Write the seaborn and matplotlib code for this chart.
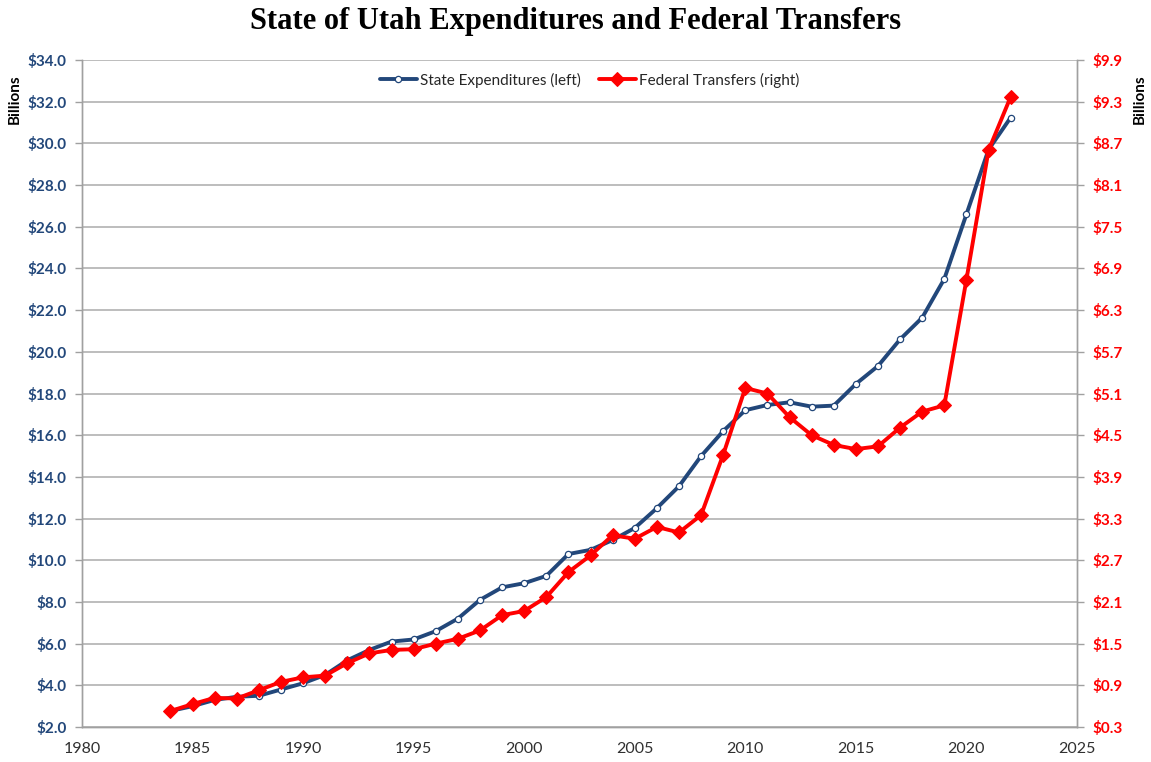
import matplotlib
matplotlib.use("Agg")
import matplotlib.pyplot as plt
import seaborn as sns
import pandas as pd
import numpy as np

years = list(range(1984, 2023))
state_expenditures = [2.77, 3.0, 3.3, 3.45, 3.5, 3.8, 4.1, 4.5, 5.2, 5.7, 6.1, 6.2, 6.6, 7.2,
                      8.1, 8.7, 8.9, 9.25, 10.3, 10.5, 10.97, 11.55, 12.5, 13.55, 15.0, 16.2,
                      17.2, 17.45, 17.58, 17.37, 17.42, 18.46, 19.32, 20.6, 21.64, 23.5, 26.6,
                      29.7, 31.24]
federal_transfers = [0.53, 0.63, 0.72, 0.71, 0.83, 0.95, 1.015, 1.04, 1.22, 1.36, 1.41, 1.42,
                     1.5, 1.57, 1.69, 1.91, 1.97, 2.17, 2.53, 2.77, 3.06, 3.01, 3.18, 3.10,
                     3.35, 4.22, 5.18, 5.10, 4.76, 4.50, 4.36, 4.30, 4.34, 4.61, 4.84, 4.93,
                     6.74, 8.60, 9.37]
left_ticks = [2.0 + 2.0 * i for i in range(17)]
right_ticks = [0.3 + 0.6 * i for i in range(17)]
x_ticks = [1980, 1985, 1990, 1995, 2000, 2005, 2010, 2015, 2020, 2025]

title = "State of Utah Expenditures and Federal Transfers"
label_state = "State Expenditures (left)"
label_fed = "Federal Transfers (right)"

df = pd.DataFrame({"year": years, "state": state_expenditures, "fed": federal_transfers})

sns.set_style("white")
plt.rcParams['font.family'] = ['Lato', 'DejaVu Sans']

BLUE = "#22477A"
RED = "#FF0000"
GRID = "#B8B8B8"

fig = plt.figure(figsize=(11.51, 7.62), dpi=100)
ax = fig.add_axes([0.0712, 0.0459, 0.8645, 0.8753])
ax2 = ax.twinx()

sns.lineplot(data=df, x="year", y="state", ax=ax, color=BLUE, linewidth=2.8,
             marker="o", markersize=4.5, markerfacecolor="white", markeredgecolor=BLUE,
             markeredgewidth=0.9, label=label_state, legend=False, zorder=3)
sns.lineplot(data=df, x="year", y="fed", ax=ax2, color=RED, linewidth=2.8,
             marker="D", markersize=7.5, markerfacecolor=RED, markeredgecolor=RED,
             label=label_fed, legend=False, zorder=4)

ax.set_xlim(1980, 2025)
ax.set_ylim(2.0, 34.0)
ax2.set_ylim(0.3, 9.9)
ax.set_xticks(x_ticks)
ax.set_yticks(left_ticks)
ax2.set_yticks(right_ticks)
ax.set_yticklabels([f"${v:.1f}" for v in left_ticks])
ax2.set_yticklabels([f"${v:.1f}" for v in right_ticks])
ax.set_xticklabels([str(v) for v in x_ticks])

ax.grid(axis="y", color=GRID, linewidth=1.3)
ax.set_axisbelow(True)

for a in (ax, ax2):
    for s in a.spines.values():
        s.set_color("#A0A0A0")
        s.set_linewidth(1.0)
    a.spines["top"].set_visible(False)

ax.tick_params(axis="y", colors="#A0A0A0", labelcolor=BLUE, labelsize=11, length=5, width=1, direction="out", pad=6)
ax2.tick_params(axis="y", colors="#A0A0A0", labelcolor=RED, labelsize=11, length=5, width=1, direction="out", pad=6)
ax.tick_params(axis="x", colors="#A0A0A0", labelcolor="#303030", labelsize=11.5, length=5, width=1, direction="out", pad=6)
for lbl in ax.get_yticklabels():
    lbl.set_fontweight("bold")
for lbl in ax2.get_yticklabels():
    lbl.set_fontweight("bold")

ax.set_xlabel("")
ax.set_ylabel("")
ax2.set_ylabel("")
fig.text(0.013, 0.870, "Billions", rotation=90, ha="center", va="center", fontsize=11, fontweight="bold", color="black")
fig.text(0.990, 0.870, "Billions", rotation=90, ha="center", va="center", fontsize=11, fontweight="bold", color="black")

fig.text(0.5, 0.972, title, ha="center", va="center", fontsize=22, fontweight="bold",
         family="Liberation Serif", color="black")

h1, l1 = ax.get_legend_handles_labels()
h2, l2 = ax2.get_legend_handles_labels()
ax2.legend(h1 + h2, l1 + l2, loc="center", bbox_to_anchor=(0.51, 0.97), ncol=2, frameon=False,
           fontsize=11, handlelength=2.4, columnspacing=1.2, handletextpad=0.2)

fig.savefig("out.png", dpi=100, facecolor="white")
